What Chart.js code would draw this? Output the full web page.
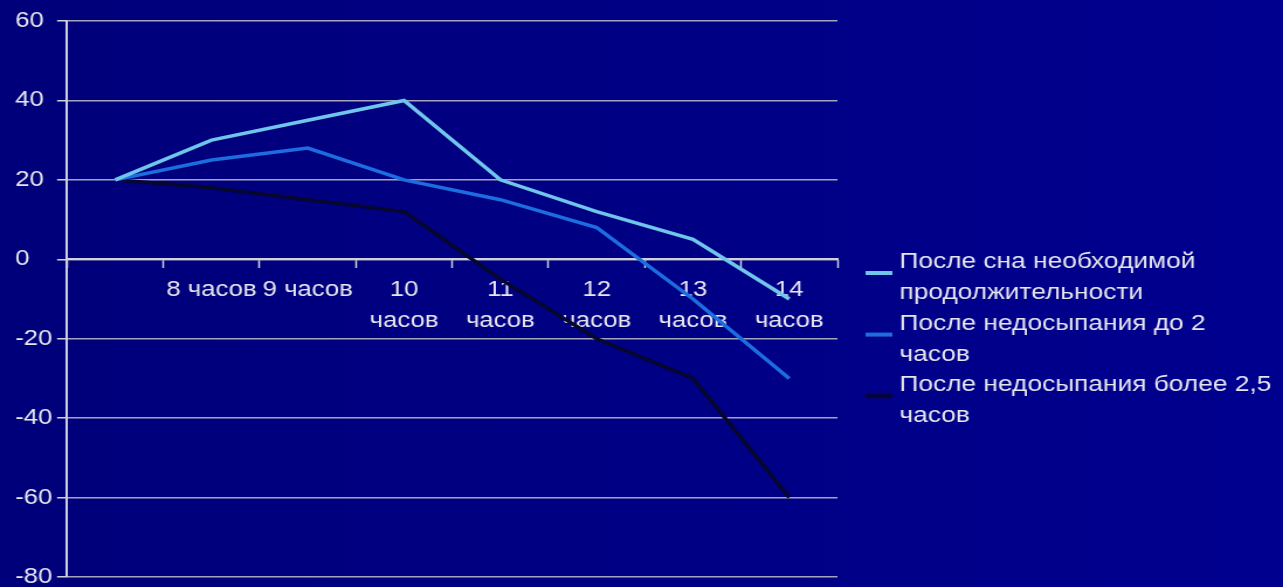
<!DOCTYPE html>
<html lang="ru">
<head>
<meta charset="utf-8">
<title>Недосыпание</title>
<script src="https://cdn.jsdelivr.net/npm/chart.js@4.4.1/dist/chart.umd.min.js"></script>
<style>
  html, body { margin: 0; padding: 0; }
  body {
    width: 1283px;
    height: 587px;
    overflow: hidden;
    background: linear-gradient(to right, #00007a, #00008f);
  }
  /* the slide is stretched horizontally, so draw narrower and stretch */
  #wrap {
    width: 1097px;
    height: 587px;
    transform: scaleX(1.1696);
    transform-origin: 0 0;
  }
</style>
</head>
<body>
<div id="wrap"><canvas id="chart"></canvas></div>
<script>
const categories = ['', '8 часов', '9 часов', ['10', 'часов'], ['11', 'часов'], ['12', 'часов'], ['13', 'часов'], ['14', 'часов']];
const seriesNames = [
  ['После сна необходимой', 'продолжительности'],
  ['После недосыпания до 2', 'часов'],
  ['После недосыпания более 2,5', 'часов']
];
const normalSleep = [20, 30, 35, 40, 20, 12, 5, -10];
const shortBy2 = [20, 25, 28, 20, 15, 8, -10, -30];
const shortOver25 = [20, 18, 15, 12, -5, -20, -30, -60];
const yTicks = [-80, -60, -40, -20, 0, 20, 40, 60];
const colors = ['#6fc6ea', '#1c6ee0', '#06062e'];

const textColor = '#e6e6ee';
const fontFamily = '"Liberation Sans", Arial, sans-serif';

// legend on the right, labels wrap onto two lines like the slide
const sideLegend = {
  id: 'sideLegend',
  afterDraw(chart) {
    const { ctx, chartArea } = chart;
    const lineH = 30.8;
    let y = 262;
    ctx.save();
    ctx.font = '22.5px ' + fontFamily;
    ctx.textBaseline = 'middle';
    chart.data.datasets.forEach((ds, i) => {
      const lines = seriesNames[i];
      ctx.fillStyle = ds.borderColor;
      ctx.fillRect(chartArea.right + 24, y + 9, 23, 4);
      ctx.fillStyle = textColor;
      lines.forEach((t, j) => ctx.fillText(t, chartArea.right + 53, y + j * lineH));
      y += lines.length * lineH;
    });
    ctx.restore();
  }
};

Chart.defaults.font.family = fontFamily;
Chart.defaults.color = textColor;

const ctx = document.getElementById('chart').getContext('2d');
new Chart(ctx, {
  type: 'line',
  data: {
    labels: categories,
    datasets: [
      { label: seriesNames[0].join(' '), data: normalSleep, borderColor: colors[0] },
      { label: seriesNames[1].join(' '), data: shortBy2, borderColor: colors[1] },
      { label: seriesNames[2].join(' '), data: shortOver25, borderColor: colors[2] }
    ]
  },
  options: {
    responsive: true,
    maintainAspectRatio: false,
    animation: false,
    layout: {
      padding: { left: 13, top: 21, right: 381, bottom: 10 }
    },
    elements: {
      line: { borderWidth: 3.5, tension: 0 },
      point: { radius: 0 }
    },
    plugins: {
      legend: { display: false },
      tooltip: { enabled: false }
    },
    scales: {
      x: {
        type: 'category',
        position: { y: 0 },
        offset: true,
        grid: {
          offset: true,
          drawOnChartArea: false,
          tickLength: 8,
          tickColor: '#d0d0dc',
          tickWidth: 1.5
        },
        border: { color: '#d0d0dc', width: 2 },
        ticks: {
          autoSkip: false,
          maxRotation: 0,
          padding: 7,
          color: textColor,
          font: { size: 22, lineHeight: 1.4 }
        }
      },
      y: {
        min: -80,
        max: 60,
        afterBuildTicks: axis => { axis.ticks = yTicks.map(v => ({ value: v })); },
        grid: {
          color: '#a4a4bc',
          lineWidth: 1.5,
          tickLength: 8.5,
          tickColor: '#d0d0dc'
        },
        border: { color: '#d0d0dc', width: 2 },
        ticks: {
          crossAlign: 'far',
          padding: 2,
          color: textColor,
          font: { size: 22, lineHeight: 0.5 }
        }
      }
    }
  },
  plugins: [sideLegend]
});
</script>
</body>
</html>
